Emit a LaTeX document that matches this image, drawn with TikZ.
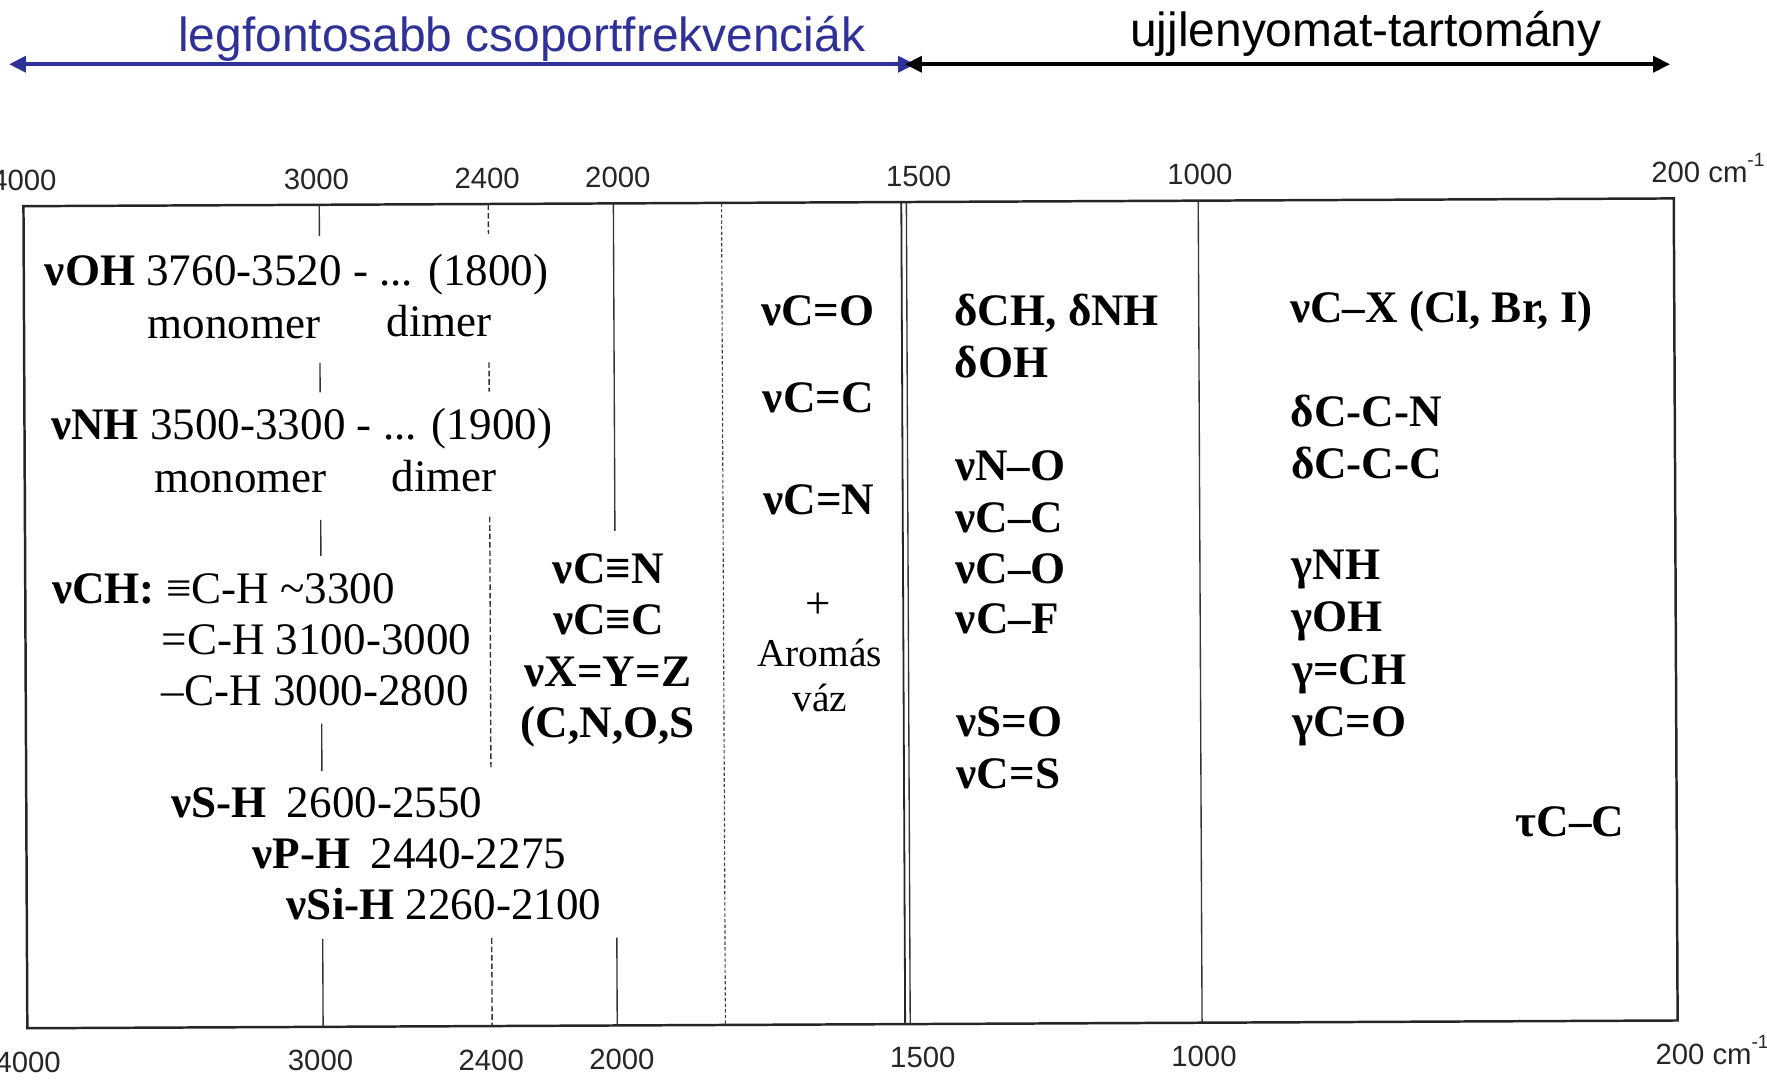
\documentclass[tikz,border=0pt]{standalone}
\usepackage{fontspec}
\setmainfont{Liberation Serif}
\newfontfamily\axisfont{Liberation Sans}
\usetikzlibrary{arrows.meta}
\definecolor{headblue}{RGB}{46,49,150}

\begin{document}
\begin{tikzpicture}[x=1pt,y=-1pt,
  txt/.style={inner sep=0pt, anchor=base west, font=\fontsize{40}{48}\selectfont},
  txtc/.style={inner sep=0pt, anchor=base, font=\fontsize{40}{48}\selectfont},
  bold/.style={font=\fontsize{40}{48}\selectfont\bfseries},
  small/.style={font=\fontsize{35}{42}\selectfont},
  ticklbl/.style={inner sep=0pt, anchor=base, text=black!85, font=\axisfont\fontsize{26}{30}\selectfont},
  ticklblw/.style={ticklbl, anchor=base west},
  heading/.style={inner sep=0pt, anchor=base, font=\axisfont\fontsize{42.5}{50}\selectfont},
  rangearrow/.style={line width=3.5pt, {Triangle[length=15pt,width=14pt]}-{Triangle[length=15pt,width=14pt]}},
  frame/.style={line width=2.2pt, black!85},
  solidline/.style={line width=1.2pt, black!80},
  dashline/.style={line width=1.2pt, black!80, dash pattern=on 5pt off 2.5pt},
  fineline/.style={line width=1pt, black!75, dash pattern=on 3pt off 2pt},
]
\useasboundingbox (0,0) rectangle (1568,959);
\fill[white] (0,0) rectangle (1568,959);

% ---- region headings with range arrows ----
\node[heading, text=headblue] (hgroup) at (463,46) {legfontosabb csoportfrekvenciák};
\node[heading] (hfinger) at (1212,41) {ujjlenyomat-tartomány};
\coordinate (gl) at (8,57);
\coordinate (gr) at (812,57);
\coordinate (fl) at (803,57);
\coordinate (fr) at (1482,57);
\draw[rangearrow, headblue] (gl) -- (gr);
\draw[rangearrow, black] (fl) -- (fr);

\begin{scope}[rotate around={0.27:(755,545)}]
% ---- chart frame ----
\draw[frame] (22.5,179.5) rectangle (1487,909);

% ---- wavenumber guide lines ----
\draw[solidline] (285,180) -- (285,207) (285,320) -- (285,346) (285,459) -- (285,491)
                 (285,640) -- (285,682) (285,831) -- (285,909);
\draw[dashline] (435,180) -- (435,206) (435,320) -- (435,346) (435,457) -- (435,681)
                (435,831) -- (435,909);
\draw[solidline] (546,180) -- (546,470) (546,831) -- (546,909);
\draw[fineline] (642,180) -- (642,909);
\draw[line width=1.6pt, black!85] (801.5,180) -- (801.5,909);
\draw[solidline] (806,180) -- (806,909);
\draw[solidline] (1065,180) -- (1065,909);

% ---- axis labels ----
\foreach \n/\x/\t in {a/23/4000, b/282.5/3000, c/434/2400, d/550/2000, e/817/1500, f/1066.5/1000}{
  \node[ticklbl] (top-\n) at (\x,165.5) {\t};
  \node[ticklbl] (bot-\n) at (\x,948) {\t};
}
\node[ticklblw] (top-g) at (1467,165.5) {200 cm\raisebox{0.55em}{\fontsize{17}{17}\selectfont -1}};
\node[ticklblw] (bot-g) at (1467,948) {200 cm\raisebox{0.55em}{\fontsize{17}{17}\selectfont -1}};

% ---- X-H stretching region ----
\node[txt] (oh)   at (41,250) {\textbf{νOH} 3760-3520 - ... (1800)};
\node[txt] (ohm)  at (132,297) {monomer};
\node[txt] (ohd)  at (344,297) {dimer};
\node[txt] (nh)   at (46,387) {\textbf{νNH} 3500-3300 - ... (1900)};
\node[txt] (nhm)  at (137,434) {monomer};
\node[txt] (nhd)  at (348,434) {dimer};
\node[txt] (ch)   at (46,532) {\textbf{νCH:} ≡C-H \textasciitilde3300};
\node[txt] (ch2)  at (143,578) {=C-H 3100-3000};
\node[txt] (ch3)  at (143,623) {–C-H 3000-2800};
\node[txt] (sh)   at (151,723) {\textbf{νS-H}\hspace{0.45em}2600-2550};
\node[txt] (ph)   at (223,768) {\textbf{νP-H}\hspace{0.45em}2440-2275};
\node[txt] (sih)  at (253,814) {\textbf{νSi-H} 2260-2100};

% ---- triple and cumulated bonds ----
\node[txtc, bold] (cn3) at (540,517) {νC≡N};
\node[txtc, bold] (cc3) at (540,562) {νC≡C};
\node[txtc, bold] (xyz) at (539,608) {νX=Y=Z};
\node[txtc, bold] (cnos) at (539,653) {(C,N,O,S};

% ---- double bonds ----
\node[txtc, bold] (co2) at (727,289) {νC=O};
\node[txtc, bold] (cc2) at (727,366) {νC=C};
\node[txtc, bold] (cn2) at (727,456) {νC=N};
\node[txtc] (plus) at (726,549) {+};
\node[txtc, small] (arom) at (727,591) {Aromás};
\node[txtc, small] (vaz)  at (727,631) {váz};

% ---- fingerprint region, first column ----
\foreach \n/\y/\t in {d1/289/{δCH, δNH}, d2/335/δOH, s1/427/νN–O, s2/473/νC–C,
                      s3/518/νC–O, s4/563/νC–F, s5/654/νS=O, s6/700/νC=S}{
  \node[txt, bold] (fp-\n) at (848,\y) {\t};
}

% ---- fingerprint region, second column ----
\foreach \n/\y/\t in {x1/288/{νC–X (Cl, Br, I)}, b1/380/δC-C-N, b2/426/δC-C-C,
                      g1/516/γNH, g2/562/γOH, g3/609/γ=CH, g4/655/γC=O}{
  \node[txt, bold] (fq-\n) at (1146,\y) {\t};
}
\node[txt, bold] (tors) at (1344,745) {τC–C};
\end{scope}
\end{tikzpicture}
\end{document}
